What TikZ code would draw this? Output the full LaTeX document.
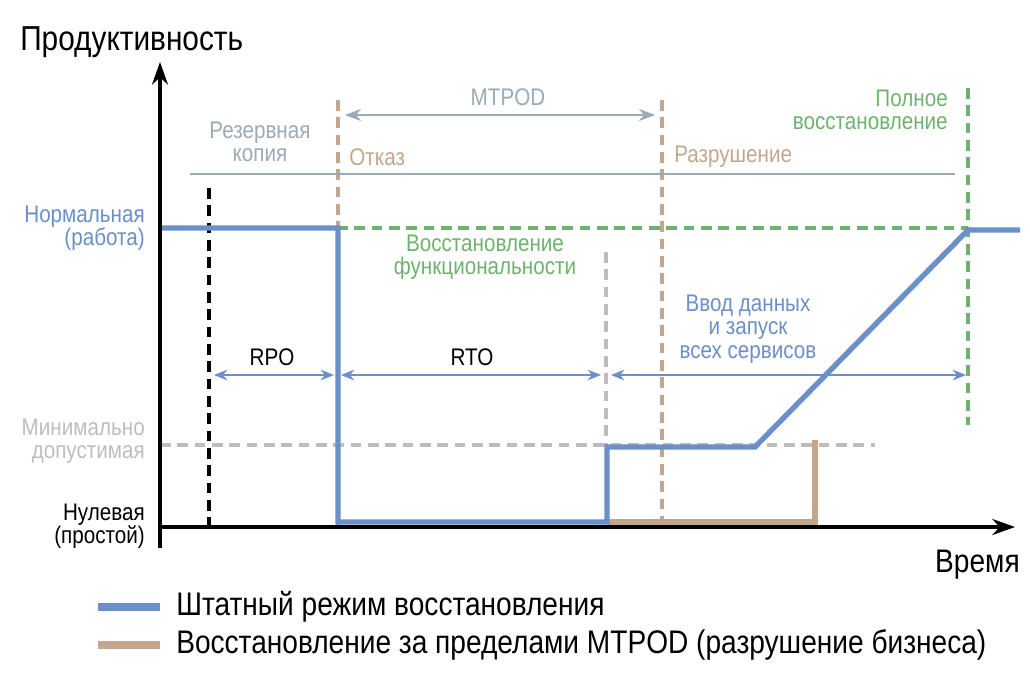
\documentclass[tikz,border=0pt]{standalone}
\usepackage{fontspec}
\setmainfont[FakeStretch=0.86]{Liberation Sans}
\usetikzlibrary{arrows.meta}
\definecolor{cblue}{HTML}{6B8FC8}
\definecolor{ctan}{HTML}{C4A68C}
\definecolor{cgreen}{HTML}{6DB36D}
\definecolor{cgb}{HTML}{9AAAB8}
\definecolor{clg}{HTML}{BDBDBD}
\begin{document}
\begin{tikzpicture}[x=0.75pt,y=-0.75pt,
  lbl/.style={font=\fontsize{18}{17.5}\selectfont,align=center,inner sep=0},
  big/.style={font=\fontsize{24.5}{26}\selectfont,inner sep=0},
  dsh/.style={line width=2.6pt,dash pattern=on 8pt off 5pt},
  thick1/.style={line width=4pt},
  dim/.style={cblue,line width=1.5pt,{Stealth[length=10pt,width=8pt]}-{Stealth[length=10pt,width=8pt]}}]
\useasboundingbox (0,0) rectangle (1030,689);
% dashed guides
\draw[dsh,clg] (160,445) -- (875,445);
\draw[dsh,clg] (606,252) -- (606,447);
\draw[dsh,black] (209,188) -- (209,527);
\draw[dsh,ctan] (338,100) -- (338,527);
\draw[dsh,ctan] (662,100) -- (662,527);
\draw[dsh,cgreen] (337,228) -- (968,228);
\draw[dsh,cgreen] (968,88) -- (968,425);
\draw[cgb,line width=1.8pt] (190,174) -- (955,174);
% curves
\draw[thick1,ctan] (607,522) -- (815,522) -- (815,440);
\draw[thick1,cblue,line join=miter] (160,228) -- (338,228) -- (338,522) -- (607,522) -- (607,447) -- (755,447) -- (968,230) -- (1020,230);
% axes
\draw[line width=2.4pt,-{Stealth[length=17pt,width=12pt]}] (160,548) -- (160,62);
\draw[line width=2.4pt,-{Stealth[length=17pt,width=12pt]}] (160,527) -- (1015,527);
\node[big,anchor=west,font=\fontsize{26}{28}\selectfont] (ty) at (20,42) {Продуктивность};
\node[big,anchor=east] (tx) at (1020,565) {Время};
% arrows
\coordinate (m1) at (345,115); \coordinate (m2) at (655,115);
\draw[cgb,line width=1.8pt,{Stealth[length=12pt,width=9pt]}-{Stealth[length=12pt,width=9pt]}] (m1) -- (m2);
\node[lbl,cgb] (mt) at (508,97) {MTPOD};
\coordinate (a1) at (214,375); \coordinate (a2) at (334,375);
\coordinate (b1) at (341,375); \coordinate (b2) at (601,375);
\coordinate (c1) at (611,375); \coordinate (c2) at (966,375);
\draw[dim] (a1) -- (a2); \draw[dim] (b1) -- (b2); \draw[dim] (c1) -- (c2);
\node[lbl] (rpo) at (272,357) {RPO};
\node[lbl] (rto) at (472,357) {RTO};
% labels
\node[lbl,cgb] (rk) at (260,142) {Резервная\\копия};
\node[lbl,ctan,anchor=west] (ot) at (349,157) {Отказ};
\node[lbl,ctan,anchor=west] (rz) at (674,157) {Разрушение};
\node[lbl,cgreen,align=right,anchor=east] (pv) at (948,110) {Полное\\восстановление};
\node[lbl,cgreen] (vf) at (485,257) {Восстановление\\функциональности};
\node[lbl,cblue] (vd) at (748,329) {Ввод данных\\и запуск\\всех сервисов};
\node[lbl,cblue,align=right,anchor=east] (nr) at (145,228) {Нормальная\\(работа)};
\node[lbl,clg,align=right,anchor=east] (md) at (145,441) {Минимально\\допустимая};
\node[lbl,align=right,anchor=east] (nu) at (145,526) {Нулевая\\(простой)};
% legend
\draw[cblue,line width=5.5pt] (98,607) -- (160,607);
\node[big,anchor=west] (l1) at (176,607) {Штатный режим восстановления};
\draw[ctan,line width=5.5pt] (98,645) -- (160,645);
\node[big,anchor=west] (l2) at (176,645) {Восстановление за пределами MTPOD (разрушение бизнеса)};
\end{tikzpicture}
\end{document}
